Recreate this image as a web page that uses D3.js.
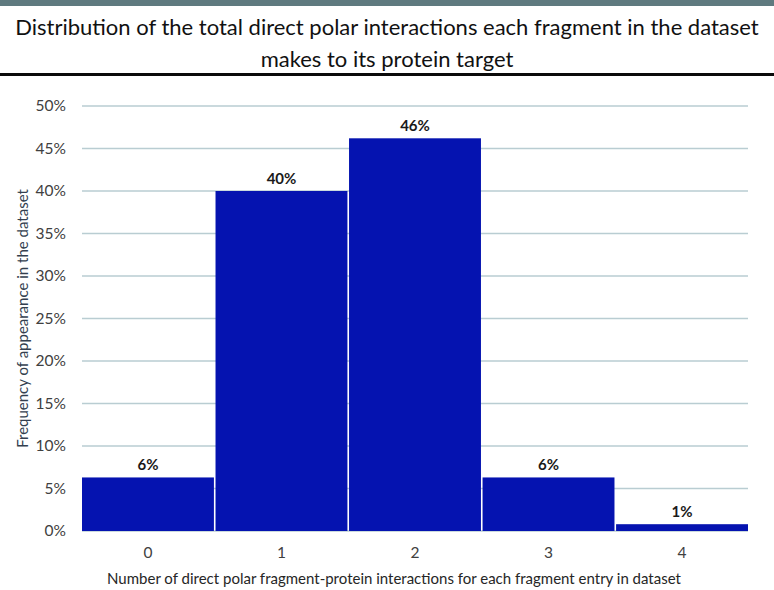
<!DOCTYPE html>
<html>
<head>
<meta charset="utf-8">
<script src="https://cdn.jsdelivr.net/npm/d3@7"></script>
<style>
  body { margin: 0; background: #fff; }
  svg { display: block; font-family: Lato, "Open Sans", sans-serif; }
</style>
</head>
<body>
<div id="chart"></div>
<script>
// chart data
var categories = ["0", "1", "2", "3", "4"];
var values = [6.3, 40.0, 46.2, 6.3, 0.8];
var valueLabels = ["6%", "40%", "46%", "6%", "1%"];
var yTicks = [0, 5, 10, 15, 20, 25, 30, 35, 40, 45, 50];

var titleLines = [
    "Distribution of the total direct polar interactions each fragment in the dataset",
    "makes to its protein target"
];
var xTitle = "Number of direct polar fragment-protein interactions for each fragment entry in dataset";
var yTitle = "Frequency of appearance in the dataset";

var W = 774, H = 590;
var plot = {left: 82, right: 748, top: 106, bottom: 531};

var svg = d3.select("#chart").append("svg")
    .attr("width", W).attr("height", H);

// decoration: band on top + rule under title
svg.append("rect").attr("x", 0).attr("y", 0).attr("width", W).attr("height", 6)
    .attr("fill", "#5f7a7f");
svg.append("rect").attr("x", 0).attr("y", 73).attr("width", W).attr("height", 3)
    .attr("fill", "#0b0b0b");

// title
svg.selectAll(".title").data(titleLines).enter().append("text")
    .attr("class", "title")
    .attr("x", W / 2)
    .attr("y", function(d, i) { return 35 + i * 32; })
    .attr("text-anchor", "middle")
    .style("font-size", "22px")
    .attr("fill", "#111")
    .text(function(d) { return d; });

// scales
var xscale = d3.scaleBand().domain(categories)
    .range([plot.left, plot.right]).paddingInner(0.012).paddingOuter(0);
var yscale = d3.scaleLinear().domain([0, 50]).range([plot.bottom, plot.top]);

// gridlines
svg.append("g").selectAll("line").data(yTicks).enter().append("line")
    .attr("x1", plot.left).attr("x2", plot.right)
    .attr("y1", function(d) { return yscale(d); })
    .attr("y2", function(d) { return yscale(d); })
    .attr("stroke", "#b9cdd2").attr("stroke-width", 1.3);

// y axis
var yaxis = d3.axisLeft(yscale).tickValues(yTicks)
    .tickFormat(function(d) { return d + "%"; }).tickSize(0).tickPadding(16);
var gy = svg.append("g").attr("transform", "translate(" + plot.left + ",0)").call(yaxis);
gy.select(".domain").remove();
gy.selectAll("text").style("font-size", "15.5px").style("font-family", "Lato, sans-serif")
    .attr("fill", "#404040");

// x axis
var xaxis = d3.axisBottom(xscale).tickSize(0).tickPadding(16);
var gx = svg.append("g").attr("transform", "translate(0," + plot.bottom + ")").call(xaxis);
gx.select(".domain").remove();
gx.selectAll("text").style("font-size", "15.5px").style("font-family", "Lato, sans-serif")
    .attr("fill", "#404040");

// bars
svg.selectAll(".bar").data(values).enter().append("rect")
    .attr("class", "bar")
    .attr("x", function(d, i) { return xscale(categories[i]); })
    .attr("width", xscale.bandwidth())
    .attr("y", function(d) { return yscale(d); })
    .attr("height", function(d) { return plot.bottom - yscale(d); })
    .attr("fill", "#0513b0");

// value labels
svg.selectAll(".vlab").data(values).enter().append("text")
    .attr("class", "vlab")
    .attr("x", function(d, i) { return xscale(categories[i]) + xscale.bandwidth() / 2; })
    .attr("y", function(d) { return yscale(d) - 7; })
    .attr("text-anchor", "middle")
    .style("font-size", "15px").style("font-weight", "bold")
    .attr("fill", "#1a1a1a")
    .text(function(d, i) { return valueLabels[i]; });

// axis titles
svg.append("text")
    .attr("x", 394).attr("y", 584)
    .attr("text-anchor", "middle")
    .style("font-size", "15px").attr("fill", "#262626")
    .text(xTitle);

svg.append("text")
    .attr("transform", "translate(28," + ((plot.top + plot.bottom) / 2) + ") rotate(-90)")
    .attr("text-anchor", "middle")
    .style("font-size", "15px").attr("fill", "#333f4f")
    .text(yTitle);
</script>
</body>
</html>
